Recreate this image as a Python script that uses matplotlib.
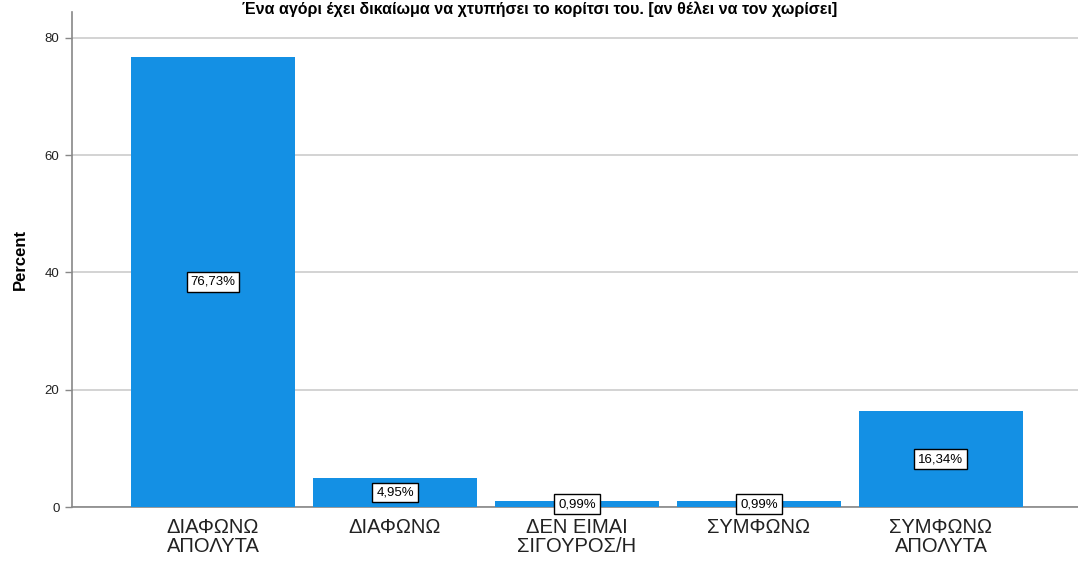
import matplotlib
matplotlib.use("Agg")
import matplotlib.pyplot as plt

categories = ["ΔΙΑΦΩΝΩ\nΑΠΟΛΥΤΑ", "ΔΙΑΦΩΝΩ", "ΔΕΝ ΕΙΜΑΙ\nΣΙΓΟΥΡΟΣ/Η", "ΣΥΜΦΩΝΩ", "ΣΥΜΦΩΝΩ\nΑΠΟΛΥΤΑ"]
percents = [76.73, 4.95, 0.99, 0.99, 16.34]
yticks = [0, 20, 40, 60, 80]
title = "Ένα αγόρι έχει δικαίωμα να χτυπήσει το κορίτσι του. [αν θέλει να τον χωρίσει]"

plt.rcParams['font.family'] = ['Liberation Sans', 'DejaVu Sans']

W, H = 1078, 561
fig = plt.figure(figsize=(W/100, H/100), dpi=100)
ax = fig.add_axes([72/W, 1-507/H, (W-72)/W, (507-12)/H])

x = list(range(len(categories)))
ax.bar(x, percents, width=0.901, color="#1490E4", zorder=3)
ax.set_xlim(-0.775, 4.753)
ax.set_ylim(0, 84.4)
ax.set_yticks(yticks)
ax.set_yticklabels([str(t) for t in yticks], fontsize=9.5, color="#222222")
ax.set_xticks(x)
ax.set_xticklabels(categories, fontsize=14.5, color="#222222", linespacing=0.98)
ax.tick_params(axis='x', length=0, pad=8)
ax.tick_params(axis='y', length=5, color="#888888", width=1, pad=4)
ax.grid(axis='y', color="#cccccc", linewidth=1.2, zorder=0)
for s in ['top', 'right']:
    ax.spines[s].set_visible(False)
for s in ['left', 'bottom']:
    ax.spines[s].set_color("#888888")
    ax.spines[s].set_linewidth(1.2)
ax.set_ylabel("Percent", fontsize=12, fontweight='bold', labelpad=12)

for xi, v in zip(x, percents):
    ax.text(xi, v/2, f"{v:.2f}%".replace('.', ','), ha='center', va='center',
            fontsize=9.5, zorder=4,
            bbox=dict(boxstyle='square,pad=0.3', facecolor='white', edgecolor='black', linewidth=1))

fig.text(540/W, 1-1/H, title, ha='center', va='top', fontsize=11.5, fontweight='bold')

fig.savefig("out.png", dpi=100)
